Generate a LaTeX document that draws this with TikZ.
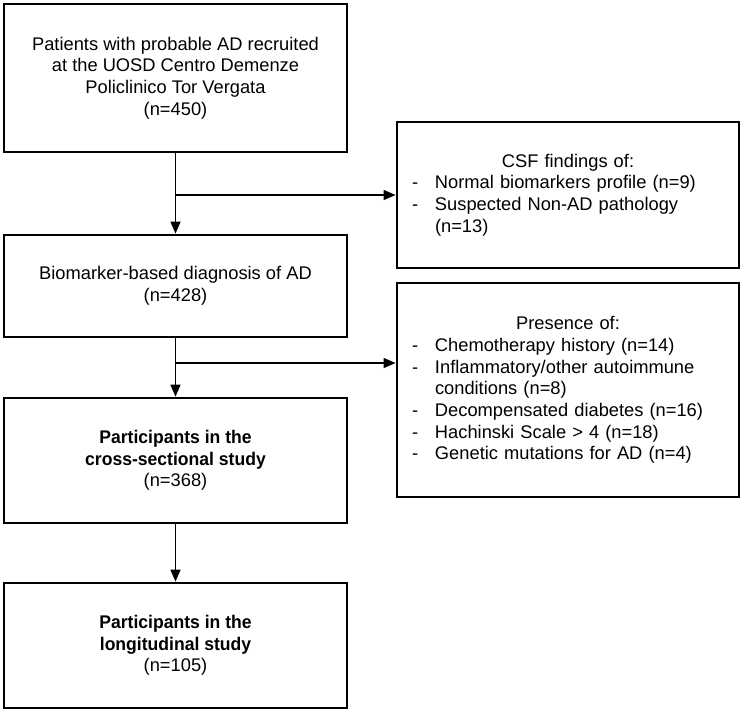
\documentclass[tikz,border=0pt]{standalone}
\usepackage{fontspec}
\setmainfont{Liberation Sans}[BoldFeatures={FakeStretch=0.96}]
\usetikzlibrary{arrows.meta}
\begin{document}
\begin{tikzpicture}[x=1pt,y=-1pt,
	box/.style={draw,line width=2.8pt,inner sep=0pt,align=center,minimum width=343pt,font=\fontsize{18.3}{21.7}\selectfont},
	listbox/.style={box,align=left,text width=312pt,minimum width=342pt},
	arr/.style={line width=1.3pt,-{Triangle[length=12pt,width=10pt]}}]
	\useasboundingbox (0,0) rectangle (744,713);
	\node(pat) [box,minimum height=148pt] at (175.5,78) {Patients with probable AD recruited\\ at the UOSD Centro Demenze\\ Policlinico Tor Vergata\\ (n=450)};
	\node(csf) [listbox,minimum height=146pt] at (568,195) {\makebox[312pt]{CSF findings of:}\\
	\makebox[23pt][l]{-}Normal biomarkers profile (n=9)\\
	\makebox[23pt][l]{-}Suspected Non-AD pathology\\
	\hspace*{23pt}(n=13)};
	\node(bio) [box,minimum height=102pt] at (175.5,286) {Biomarker-based diagnosis of AD\\ (n=428)};
	\node(pres) [listbox,minimum height=214pt] at (568,390) {\makebox[312pt]{Presence of:}\\
	\makebox[23pt][l]{-}Chemotherapy history (n=14)\\
	\makebox[23pt][l]{-}Inflammatory/other autoimmune\\
	\hspace*{23pt}conditions (n=8)\\
	\makebox[23pt][l]{-}Decompensated diabetes (n=16)\\
	\makebox[23pt][l]{-}Hachinski Scale > 4 (n=18)\\
	\makebox[23pt][l]{-}Genetic mutations for AD (n=4)};
	\node(cross) [box,minimum height=125pt] at (175.5,460.5) {\textbf{Participants in the}\\ \textbf{cross-sectional study}\\ (n=368)};
	\node(longi) [box,minimum height=125pt] at (175.5,645.5) {\textbf{Participants in the}\\ \textbf{longitudinal study}\\ (n=105)};
	\coordinate (j1) at (175.5,195);
	\coordinate (j2) at (175.5,363);
	\draw [arr] (pat) -- (bio);
	\draw [arr] (j1) -- (csf);
	\draw [arr] (bio) -- (cross);
	\draw [arr] (j2) -- (j2 -| pres.west);
	\draw [arr] (cross) -- (longi);
\end{tikzpicture}
\end{document}
